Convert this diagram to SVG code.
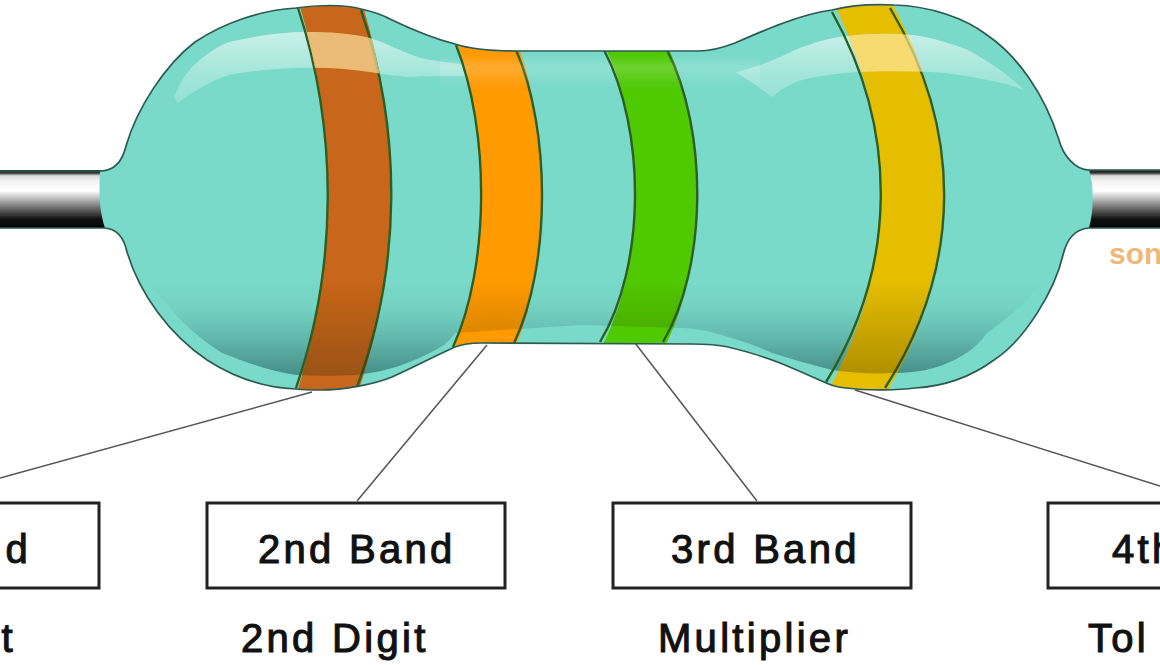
<svg xmlns="http://www.w3.org/2000/svg" width="1160" height="665" viewBox="0 0 1160 665">
<style>
.box{fill:#fff;stroke:#222;stroke-width:3}
.lbl{font-family:"Liberation Sans",Arial,sans-serif;font-size:40px;fill:#111;stroke:#111;stroke-width:1.1px;letter-spacing:3.3px}
.conn{fill:none;stroke:#555;stroke-width:1.5}
.edge{fill:none;stroke:#2e5f22;stroke-width:2.4}
.outline{fill:none;stroke:#2c5a52;stroke-width:1.7}
.son{font-family:"Liberation Sans",Arial,sans-serif;font-size:30px;font-weight:bold;fill:#efb77a}
</style>
<defs>
<linearGradient id="wire" x1="0" y1="170" x2="0" y2="228" gradientUnits="userSpaceOnUse">
<stop offset="0" stop-color="#222"/><stop offset=".05" stop-color="#333"/><stop offset=".1" stop-color="#ddd"/><stop offset=".2" stop-color="#f4f4f4"/><stop offset=".36" stop-color="#fff"/><stop offset=".6" stop-color="#888"/><stop offset=".85" stop-color="#111"/><stop offset="1" stop-color="#000"/>
</linearGradient>
<linearGradient id="hi" x1="0" y1="32" x2="0" y2="100" gradientUnits="userSpaceOnUse">
<stop offset="0" stop-color="#fff" stop-opacity=".6"/><stop offset=".6" stop-color="#fff" stop-opacity=".32"/><stop offset="1" stop-color="#fff" stop-opacity=".22"/>
</linearGradient>
<linearGradient id="mid" x1="0" y1="56" x2="0" y2="88" gradientUnits="userSpaceOnUse">
<stop offset="0" stop-color="#fff" stop-opacity="0"/><stop offset=".35" stop-color="#fff" stop-opacity=".17"/><stop offset="1" stop-color="#fff" stop-opacity="0"/>
</linearGradient>
<linearGradient id="sh" x1="0" y1="280" x2="0" y2="376" gradientUnits="userSpaceOnUse">
<stop offset="0" stop-color="#1c4f55" stop-opacity="0"/><stop offset=".3" stop-color="#1c4f55" stop-opacity=".06"/><stop offset=".6" stop-color="#1c4f55" stop-opacity=".24"/><stop offset="1" stop-color="#1c4f55" stop-opacity=".56"/>
</linearGradient>
<linearGradient id="shb" x1="0" y1="280" x2="0" y2="376" gradientUnits="userSpaceOnUse">
<stop offset="0" stop-color="#3a2a00" stop-opacity="0"/><stop offset="1" stop-color="#3a2a00" stop-opacity=".32"/>
</linearGradient>
<clipPath id="bodyClip"><path d="M100 171C114 171 122 163 126 146C137 108 165 65 195 42C225 22 262 10 296 8C315 5 345 4 361 9C375 12 385 16 392 20C415 31 435 39 455 44C470 49 490 51 518 51L698 51C712 51 722 48 735 43C760 32 800 14 832 10C852 5 875 4 894 5C930 6 965 18 987 35C1018 56 1045 95 1059 140C1063 155 1075 170 1089 170C1094 185 1094 210 1089 228C1076 229 1067 238 1063 255C1055 290 1025 340 994 360C975 374 950 386 915 388C900 390 870 391 846 388C835 387 828 384 824 382C810 376 795 369 780 363C760 355 745 351 728 347C715 344 705 344 691 344L481 343C470 343 463 344 455 347C435 356 412 368 392 377C375 384 345 390 320 390C312 390 305 390 296 389C265 388 235 378 207 360C170 335 140 295 127 252C124 238 118 229 105 228C99 210 99 190 100 171Z"/></clipPath>
<clipPath id="bandsClip">
<path d="M298 0C338 130 338 266 296 395L357 395C402 266 402 130 361 0Z"/>
<path d="M456 40C490 130 490 266 453 350L514 350C551 266 551 130 516 40Z"/>
<path d="M604 45C646 130 646 266 600 350L663 350C708 266 708 130 667 45Z"/>
<path d="M832 0C898 130 898 266 826 395L885 395C963 266 963 130 890 0Z"/>
</clipPath>
<clipPath id="band14Clip">
<path d="M298 0C338 130 338 266 296 395L357 395C402 266 402 130 361 0Z"/>
<path d="M832 0C898 130 898 266 826 395L885 395C963 266 963 130 890 0Z"/>
</clipPath>
<path id="shadowShape" d="M150 282L1042 282C1025 305 1005 320 987 333C975 350 960 358 943 365C927 371 910 373 894 373C873 374 852 373 832 370C812 365 792 359 772 353C757 346 742 341 728 337C714 332 700 329 684 328L580 325L455 333C452 338 448 341 444 345C433 352 420 358 407 363C390 370 372 373 355 375C335 376 315 376 296 375C270 371 245 362 222 353C205 342 190 330 178 317C168 305 158 294 150 282Z"/>
<path id="lobeLeft" d="M174 97C180 82 186 74 192 67C205 55 216 47 229 42C255 36 280 32 307 32C330 32 350 33 370 38C388 44 402 52 418 57C432 61 444 62 480 66L480 76C440 76 424 76 407 77C395 76 382 74 370 72C345 68 320 67 296 68C272 69 250 71 229 75C210 81 192 92 178 103Z"/>
<path id="lobeRight" d="M735 72C750 70 770 61 780 57C800 47 820 40 839 37C865 33 890 33 913 35C935 38 952 44 968 50C990 62 1010 76 1024 90C1010 85 1000 82 987 80C968 76 950 73 931 72C905 71 880 71 857 72C835 74 818 76 802 80C790 84 780 90 772 97C765 92 750 80 735 72Z"/>
<filter id="soft" x="-2%" y="-2%" width="104%" height="104%"><feGaussianBlur stdDeviation=".45"/></filter>
</defs>
<rect width="1160" height="665" fill="#fff"/>
<g id="connectors">
<path class="conn" d="M0 478L312 392"/>
<path class="conn" d="M357 501L487 345"/>
<path class="conn" d="M635 343L757 501"/>
<path class="conn" d="M855 390L1160 486"/>
</g>
<g id="resistor" filter="url(#soft)">
<rect id="wire-left" x="0" y="170" width="108" height="58" fill="url(#wire)"/>
<rect id="wire-right" x="1085" y="170" width="75" height="58" fill="url(#wire)"/>
<g clip-path="url(#bodyClip)">
<rect x="90" y="0" width="1010" height="400" fill="#79dac9"/>
<use href="#shadowShape" fill="url(#sh)"/>
<use href="#lobeLeft" fill="url(#hi)"/>
<use href="#lobeRight" fill="url(#hi)"/>
<rect x="440" y="56" width="320" height="32" fill="url(#mid)"/>
<g id="band-1"><path fill="#c8661a" d="M298 0C338 130 338 266 296 395L357 395C402 266 402 130 361 0Z"/><path class="edge" d="M298 8C338 130 338 266 296 388"/><path class="edge" d="M361 10C402 130 402 266 357 387"/></g>
<g id="band-2"><path fill="#ff9a06" d="M456 40C490 130 490 266 453 350L514 350C551 266 551 130 516 40Z"/><path class="edge" d="M456 45C490 130 490 266 453 347"/><path class="edge" d="M516 50C551 130 551 266 514 343"/></g>
<g id="band-3"><path fill="#4fc906" d="M604 45C646 130 646 266 600 350L663 350C708 266 708 130 667 45Z"/><path class="edge" d="M604 50C646 130 646 266 600 342"/><path class="edge" d="M667 50C708 130 708 266 663 342"/></g>
<g id="band-4"><path fill="#e6be05" d="M832 0C898 130 898 266 826 395L885 395C963 266 963 130 890 0Z"/><path class="edge" d="M832 12C898 130 898 266 826 382"/><path class="edge" d="M890 8C963 130 963 266 885 388"/></g>
<g clip-path="url(#bandsClip)">
<use href="#shadowShape" fill="url(#shb)"/>
<rect x="440" y="56" width="320" height="32" fill="url(#mid)"/>
</g>
<g clip-path="url(#band14Clip)" fill="#ffe9a8" opacity=".66">
<use href="#lobeLeft"/>
<use href="#lobeRight"/>
</g>
</g>
<path class="outline" d="M0 171L100 171C114 171 122 163 126 146C137 108 165 65 195 42C225 22 262 10 296 8C315 5 345 4 361 9C375 12 385 16 392 20C415 31 435 39 455 44C470 49 490 51 518 51L698 51C712 51 722 48 735 43C760 32 800 14 832 10C852 5 875 4 894 5C930 6 965 18 987 35C1018 56 1045 95 1059 140C1063 155 1075 170 1089 170L1160 170"/>
<path class="outline" d="M1089 228C1076 229 1067 238 1063 255C1055 290 1025 340 994 360C975 374 950 386 915 388C900 390 870 391 846 388C835 387 828 384 824 382C810 376 795 369 780 363C760 355 745 351 728 347C715 344 705 344 691 344L481 343C470 343 463 344 455 347C435 356 412 368 392 377C375 384 345 390 320 390C312 390 305 390 296 389C265 388 235 378 207 360C170 335 140 295 127 252C124 238 118 229 105 228"/>
<path class="outline" d="M0 228L105 228M1089 228L1160 228"/>
</g>
<text id="watermark" class="son" x="1109" y="264">son</text>
<g id="node-1st"><rect class="box" x="-100" y="503" width="199" height="85"/><text class="lbl" x="31" y="563" text-anchor="end">d</text><text class="lbl" x="16" y="652" text-anchor="end">t</text></g>
<g id="node-2nd"><rect class="box" x="207" y="503" width="298" height="85"/><text class="lbl" x="258" y="563">2nd Band</text><text class="lbl" x="241" y="652">2nd Digit</text></g>
<g id="node-3rd"><rect class="box" x="613" y="503" width="298" height="85"/><text class="lbl" x="671" y="563">3rd Band</text><text class="lbl" x="658" y="652">Multiplier</text></g>
<g id="node-4th"><rect class="box" x="1048" y="503" width="220" height="85"/><text class="lbl" x="1112" y="563">4th</text><text class="lbl" x="1088" y="652">Tol</text></g>
</svg>
